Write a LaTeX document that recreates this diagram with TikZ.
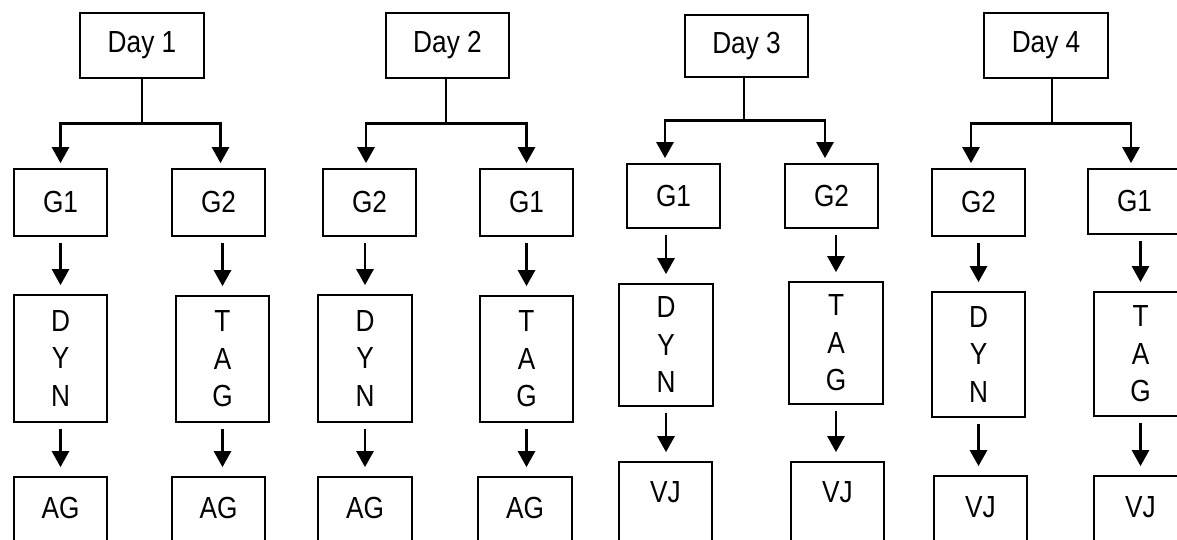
\documentclass[tikz,border=0pt]{standalone}
\usepackage{fontspec}
\setmainfont{Liberation Sans}[FakeStretch=0.86]
\usetikzlibrary{arrows.meta}
\tikzset{
  box/.style={draw, line width=1.7pt, inner sep=0pt, minimum width=93pt,
    font=\fontsize{30.5}{37.5}\selectfont, align=center},
  daybox/.style={box, minimum width=124pt, minimum height=65pt},
  gbox/.style={box, minimum height=67pt},
  tallbox/.style={box, minimum height=126pt},
  botbox/.style={box, anchor=base, inner ysep=0pt, text height=41pt, text depth=70pt},
  branch/.style={line width=2.7pt, -{Triangle[width=17pt,length=16pt]}, shorten >=5pt},
  arr/.style={line width=2.6pt, -{Triangle[width=17pt,length=16pt]}, shorten <=6pt, shorten >=9pt}
}
\begin{document}
\begin{tikzpicture}[x=1pt,y=-1pt]
\useasboundingbox (0,0) rectangle (1177,540);
\clip (0,0) rectangle (1177,540);
% Day 1
\node[daybox] (d1) at (142,45.5) {Day 1};
\node[gbox] (g11) at (60.5,202.5) {G1};
\node[gbox] (g12) at (218.5,202.5) {G2};
\node[tallbox, minimum height=127pt] (m11) at (60.5,358.5) {D\\Y\\N};
\node[tallbox] (m12) at (222.5,359) {T\\A\\G};
\node[botbox] (b11) at (60.5,518) {AG};
\node[botbox] (b12) at (218.5,518) {AG};
% Day 2
\node[daybox, minimum width=123pt] (d2) at (447.5,45.5) {Day 2};
\node[gbox] (g21) at (369.5,202.5) {G2};
\node[gbox] (g22) at (526.5,202.5) {G1};
\node[tallbox, minimum height=127pt, minimum width=94pt] (m21) at (365,358.5) {D\\Y\\N};
\node[tallbox] (m22) at (526.5,359) {T\\A\\G};
\node[botbox, minimum width=94pt] (b21) at (365,518) {AG};
\node[botbox, minimum width=94pt] (b22) at (525,518) {AG};
% Day 3
\node[daybox, minimum width=123pt, minimum height=62pt] (d3) at (746.5,46) {Day 3};
\node[gbox, minimum height=64pt] (g31) at (673.5,196) {G1};
\node[gbox, minimum height=64pt] (g32) at (831.5,196) {G2};
\node[tallbox, minimum height=122pt, minimum width=94pt] (m31) at (666,345) {D\\Y\\N};
\node[tallbox, minimum height=122pt, minimum width=94pt] (m32) at (836,343) {T\\A\\G};
\node[botbox, text height=40pt] (b31) at (665.5,502) {VJ};
\node[botbox, text height=40pt] (b32) at (837.5,502) {VJ};
% Day 4
\node[daybox] (d4) at (1046,45.5) {Day 4};
\node[gbox] (g41) at (978.5,202.5) {G2};
\node[gbox, minimum height=65pt] (g42) at (1134.5,201.5) {G1};
\node[tallbox, minimum height=125pt] (m41) at (978.5,354.5) {D\\Y\\N};
\node[tallbox, minimum height=124pt] (m42) at (1140.5,354) {T\\A\\G};
\node[botbox] (b41) at (980.5,517) {VJ};
\node[botbox] (b42) at (1140.5,517) {VJ};
% branches
\draw[branch] (d1.south) -- ++(0,45) -| (g11.north);
\draw[branch] (d1.south) -- ++(0,45) -| ([xshift=2pt]g12.north);
\draw[branch] ([xshift=-1.5pt]d2.south) -- ++(0,45) -| ([xshift=-3.5pt]g21.north);
\draw[branch] ([xshift=-1.5pt]d2.south) -- ++(0,45) -| (g22.north);
\draw[branch] ([xshift=-2.5pt]d3.south) -- ++(0,43) -| ([xshift=-8.5pt]g31.north);
\draw[branch] ([xshift=-2.5pt]d3.south) -- ++(0,43) -| ([xshift=-6.5pt]g32.north);
\draw[branch] ([xshift=6pt]d4.south) -- ++(0,45) -| ([xshift=-7.5pt]g41.north);
\draw[branch] ([xshift=6pt]d4.south) -- ++(0,45) -| ([xshift=-3.5pt]g42.north);
% vertical arrows
\foreach \g/\m/\b in {g11/m11/b11, g12/m12/b12, g21/m21/b21, g22/m22/b22,
                      g31/m31/b31, g32/m32/b32, g41/m41/b41, g42/m42/b42}{
  \draw[arr] (\g.south -| \m.north) -- (\m.north);
  \draw[arr] (\m.south) -- (\m.south |- \b.north);
}
\end{tikzpicture}
\end{document}
